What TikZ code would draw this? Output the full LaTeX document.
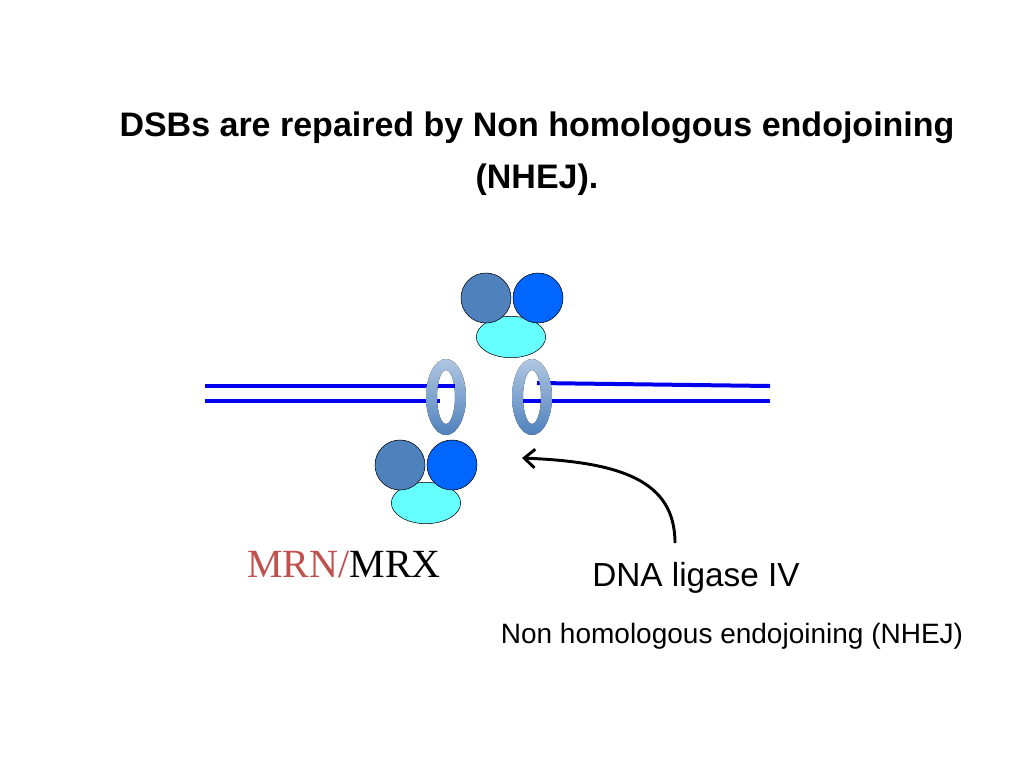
\documentclass[tikz,border=0pt]{standalone}
\usepackage{fontspec}
\setmainfont{Liberation Sans}
\newfontfamily\serifrm{Liberation Serif}
\usetikzlibrary{arrows.meta, positioning, shapes.geometric}

\definecolor{ballA}{HTML}{4F81BD}
\definecolor{ballB}{HTML}{0066FF}
\definecolor{baseC}{HTML}{66FFFF}
\definecolor{dnablue}{HTML}{0000EE}
\definecolor{mrnred}{HTML}{C0504D}
\tikzset{
  ball/.style={draw=black, circle, minimum size=37.5pt, inner sep=0pt},
  base/.style={draw=black, ellipse, minimum width=52pt, minimum height=31pt, inner sep=0pt, fill=baseC},
  dna/.style={dnablue, line width=3pt},
  ring/.style={even odd rule, top color=ballA!45!white, bottom color=ballA, draw=none}
}

\begin{document}
\begin{tikzpicture}[x=0.75pt, y=-0.75pt]
  \useasboundingbox (0,0) rectangle (1024,768);

  % title
  \node[font=\bfseries\fontsize{25.5}{30}\selectfont] (title1) at (537,128) {DSBs are repaired by Non homologous endojoining};
  \node[font=\bfseries\fontsize{25.5}{30}\selectfont] (title2) at (537,180) {(NHEJ).};

  % DNA strands
  \draw[dna] (205,386) -- (455,386);
  \draw[dna] (205,401) -- (440,401);
  \draw[dna] (537,383) -- (770,386);
  \draw[dna] (523,401) -- (770,401);

  % rings
  \fill[ring] (446,397) ellipse (20 and 38) (446,397) ellipse (9 and 27);
  \fill[ring] (532,397) ellipse (20 and 38) (532,397) ellipse (9 and 27);
  \draw[dna] (446,386) -- (455,386);
  \draw[dna] (523,401) -- (532,401);

  % upper complex
  \node[base] (topbase) at (511,337) {};
  \node[ball, fill=ballA] (topA) at (486,298) {};
  \node[ball, fill=ballB] (topB) at (538,298) {};

  % lower complex
  \node[base] (lowbase) at (426,503) {};
  \node[ball, fill=ballA] (lowA) at (400,465) {};
  \node[ball, fill=ballB] (lowB) at (452,465) {};

  % labels
  \node[font=\serifrm\fontsize{30}{34}\selectfont] (mrn) at (344,565) {\textcolor{mrnred}{MRN/}MRX};
  \node[font=\fontsize{25}{28}\selectfont] (ligase) at (696,578) {DNA ligase IV};
  \node[font=\fontsize{21}{24}\selectfont] (nhej) at (732,636) {Non homologous endojoining (NHEJ)};

  \coordinate (tail) at (675,543);
  \coordinate (tip) at (522,458);
  \draw[-{Straight Barb[length=8pt,width=14pt,line width=2.2pt]}, line width=2.2pt] (tail) .. controls (675,480) and (620,462) .. (tip);
\end{tikzpicture}
\end{document}
